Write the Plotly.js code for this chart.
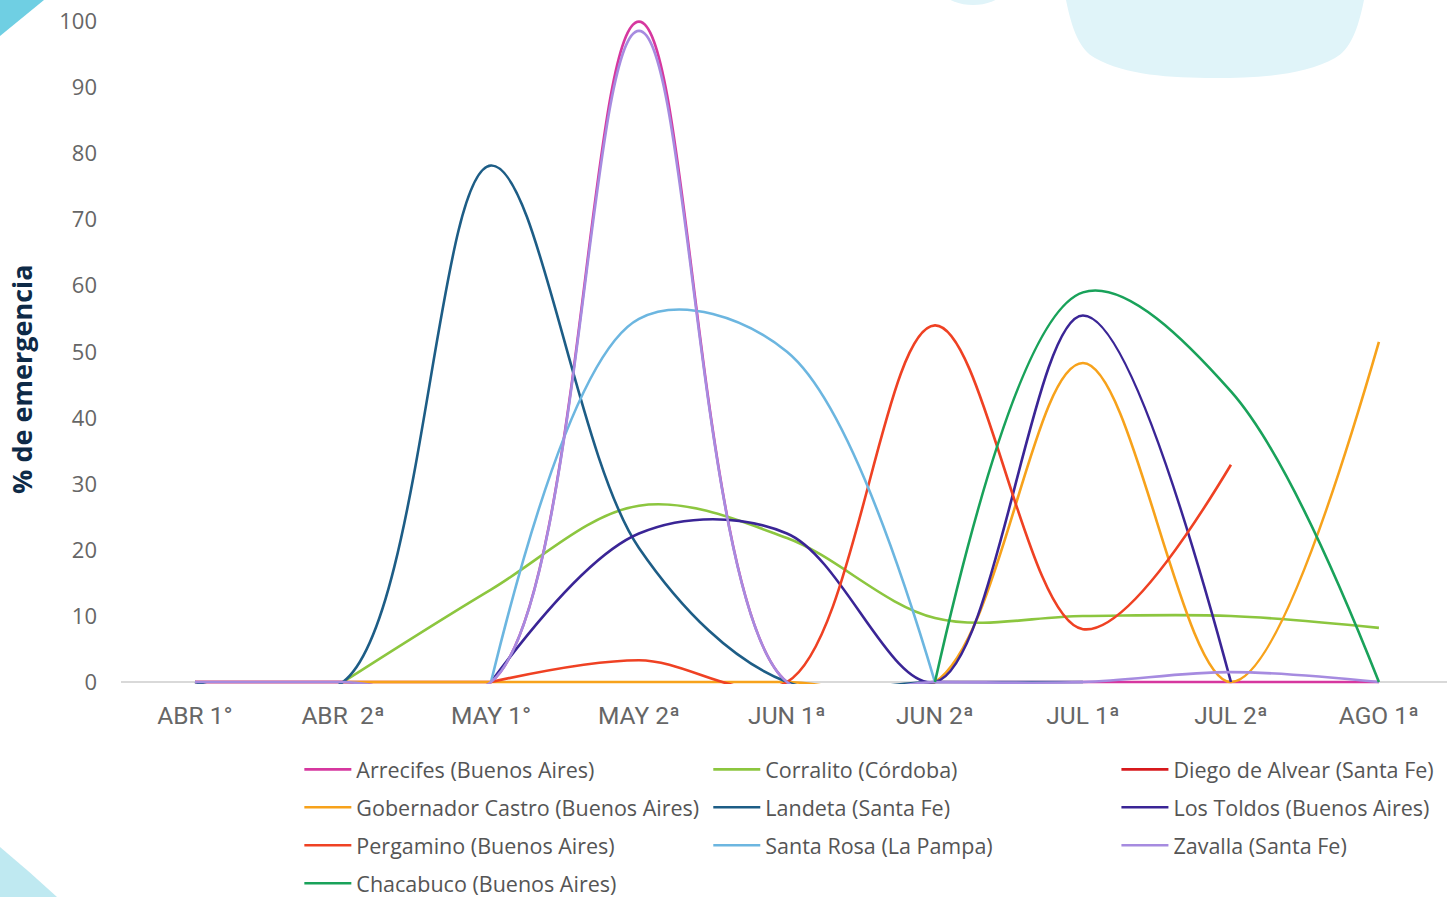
<!DOCTYPE html>
<html>
<head>
<meta charset="utf-8">
<script src="https://cdn.plot.ly/plotly-3.0.1.min.js"></script>
<style>
  html, body { margin: 0; padding: 0; background: #ffffff; }
  #wrap { position: relative; width: 1447px; height: 897px; overflow: hidden; }
  #bg { position: absolute; left: 0; top: 0; }
  #chart { position: absolute; left: 0; top: 0; width: 1447px; height: 897px; }
</style>
</head>
<body>
<div id="wrap">
  <svg id="bg" width="1447" height="897" xmlns="http://www.w3.org/2000/svg">
    <path d="M1066,0 C1072,30 1080,50 1095,58 C1125,75 1170,78 1215,78 C1260,78 1305,75 1335,58 C1350,50 1358,30 1364,0 Z" fill="#e0f4f9"/>
    <ellipse cx="973" cy="-42" rx="50" ry="47" fill="#e0f4f9"/>
    <path d="M0,0 L44,0 Q22,18 0,36 Z" fill="#6fcfe3"/>
    <path d="M0,847 Q30,872 57,897 L0,897 Z" fill="#bfe9f1"/>
  </svg>
  <div id="chart"></div>
</div>
<script>
const categories = ['ABR 1°', 'ABR\u00a0\u00a02ª', 'MAY 1°', 'MAY 2ª', 'JUN 1ª', 'JUN 2ª', 'JUL 1ª', 'JUL 2ª', 'AGO 1ª'];
const yTicks = [0, 10, 20, 30, 40, 50, 60, 70, 80, 90, 100];

const arrecifes     = [0, 0, 0, 100, 0, 0, 0, 0, 0];
const corralito     = [null, 0, 14, 26.7, 21.8, 9.7, 10, 10, 8.2];
const diegoAlvear   = [0, 0, 0, null, null, null, null, null, null];
const gobCastro     = [null, 0, 0, 0, 0, 0, 48.3, 0, 51.5];
const landeta       = [0, 0, 78.2, 20.3, 0, 0, 0, null, null];
const losToldos     = [null, null, 0, 22.5, 22.5, 0, 55.5, 0, null];
const pergamino     = [null, null, 0, 3.3, 0, 54, 8, 32.9, null];
const santaRosa     = [null, null, 0, 55, 50, 0, null, null, null];
const zavalla       = [0, 0, 0, 98.6, 0, 0, 0, 1.5, 0];
const chacabuco     = [null, null, null, null, null, 0, 59, 44, 0];

const seriesNames = [
  'Arrecifes (Buenos Aires)', 'Corralito (Córdoba)', 'Diego de Alvear (Santa Fe)',
  'Gobernador Castro (Buenos Aires)', 'Landeta (Santa Fe)', 'Los Toldos (Buenos Aires)',
  'Pergamino (Buenos Aires)', 'Santa Rosa (La Pampa)', 'Zavalla (Santa Fe)',
  'Chacabuco (Buenos Aires)'
];
const seriesValues = [arrecifes, corralito, diegoAlvear, gobCastro, landeta, losToldos, pergamino, santaRosa, zavalla, chacabuco];
const seriesColors = ['#d6379f', '#8cc63f', '#d7191c', '#f7a21b', '#1d5d86', '#3a2596', '#ef4123', '#6cb6e0', '#a68be0', '#19a25a'];
const legendIds = ['legend', 'legend2', 'legend3'];

const traces = seriesNames.map((name, i) => ({
  type: 'scatter',
  mode: 'lines',
  name: name,
  legendgroup: 'g' + i,
  legend: legendIds[i % 3],
  x: categories,
  y: seriesValues[i],
  line: { color: seriesColors[i], width: 2.6, shape: 'spline', smoothing: 1 },
  connectgaps: false,
  hoverinfo: 'x+y+name'
}));

const legendFont = { family: '"Open Sans", sans-serif', size: 21.5, color: '#555555' };
function makeLegend(xPos) {
  return {
    orientation: 'v',
    traceorder: 'grouped',
    tracegroupgap: 7,
    x: xPos,
    xanchor: 'left',
    y: -0.097,
    yanchor: 'top',
    itemwidth: 47,
    bgcolor: 'rgba(0,0,0,0)',
    font: legendFont
  };
}

const layout = {
  width: 1447,
  height: 897,
  margin: { l: 121, r: 0, t: 15, b: 213, autoexpand: false },
  paper_bgcolor: 'rgba(0,0,0,0)',
  plot_bgcolor: 'rgba(0,0,0,0)',
  showlegend: true,
  xaxis: {
    type: 'category',
    range: [-0.5, 8.46],
    showgrid: false,
    zeroline: false,
    showline: false,
    ticks: '',
    ticklabelstandoff: 14,
    tickfont: { family: 'Roboto, sans-serif', size: 24.5, color: '#666666' }
  },
  yaxis: {
    range: [-0.3, 101],
    tickvals: yTicks,
    showgrid: false,
    zeroline: true,
    zerolinecolor: '#d9d9d9',
    zerolinewidth: 1.5,
    showline: false,
    ticks: '',
    ticklabelstandoff: 23,
    tickfont: { family: '"Open Sans", sans-serif', size: 22, color: '#666666' }
  },
  annotations: [{
    text: '<b>% de emergencia</b>',
    xref: 'paper', yref: 'paper',
    x: -0.0747, y: 0.456,
    xanchor: 'center', yanchor: 'middle',
    textangle: -90,
    showarrow: false,
    font: { family: '"Open Sans", sans-serif', size: 27, color: '#0e2a47' }
  }],
  legend: makeLegend(0.1345),
  legend2: makeLegend(0.4429),
  legend3: makeLegend(0.7507)
};

Plotly.newPlot('chart', traces, layout, { displayModeBar: false });
</script>
</body>
</html>
